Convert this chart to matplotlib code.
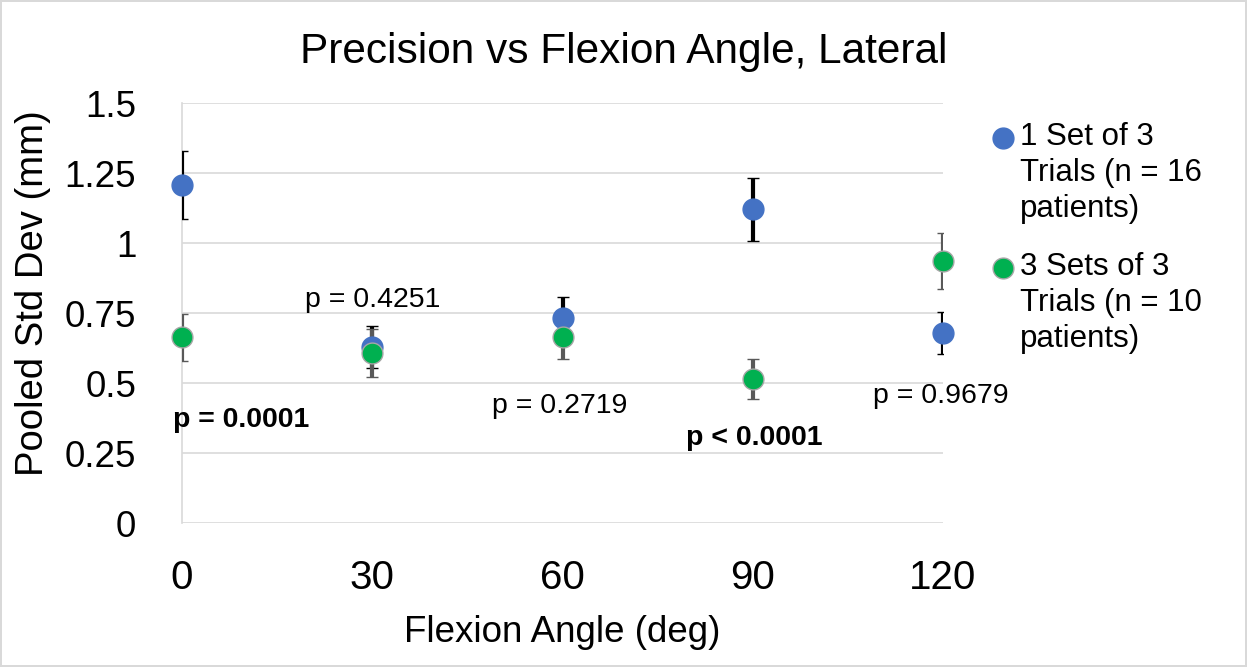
import matplotlib
matplotlib.use("Agg")
import matplotlib.pyplot as plt
from matplotlib.lines import Line2D

plt.rcParams['font.family'] = ['Liberation Sans', 'DejaVu Sans']

# Data
angles = [0, 30, 60, 90, 120]
one_set = [1.208, 0.631, 0.732, 1.121, 0.679]
one_set_err = [0.122, 0.075, 0.077, 0.112, 0.075]
three_sets = [0.664, 0.609, 0.666, 0.516, 0.937]
three_sets_err = [0.085, 0.086, 0.080, 0.072, 0.100]

labels = ["1 Set of 3\nTrials (n = 16\npatients)",
          "3 Sets of 3\nTrials (n = 10\npatients)"]

# p-value annotations
p_x = [30, 9.3, 59.5, 90.2, 119.7]
p_y = [0.7725, 0.344, 0.394, 0.280, 0.430]
p_text = ["p = 0.4251", "p = 0.0001", "p = 0.2719", "p < 0.0001", "p = 0.9679"]
p_bold = [False, True, False, True, False]

yticks = [0, 0.25, 0.5, 0.75, 1, 1.25, 1.5]
ytick_labels = ["0", "0.25", "0.5", "0.75", "1", "1.25", "1.5"]

blue = "#4472C4"
green = "#00B050"
W, H = 1247, 667

fig = plt.figure(figsize=(W / 100, H / 100), dpi=100)
fig.patch.set_edgecolor("#d9d9d9")
fig.patch.set_linewidth(1.5)
ax = fig.add_axes([182 / W, 1 - 523.3 / H, (943 - 182) / W, (523.3 - 103.3) / H])

series = [(one_set, one_set_err, blue, "black", blue),
          (three_sets, three_sets_err, green, "#595959", "#a6a6a6")]
for vals, errs, col, ecol, edge in series:
    line, caps, bars = ax.errorbar(angles, vals, yerr=errs, fmt="o", ms=15,
                                   mfc=col, mec=edge, mew=1.0,
                                   ecolor=ecol, elinewidth=3, capsize=4.5,
                                   capthick=3, zorder=3)
    line.set_clip_on(False)

ax.set_xlim(0, 120)
ax.set_ylim(0, 1.5)
ax.set_xticks(angles)
ax.set_yticks(yticks)
ax.set_yticklabels(ytick_labels, fontsize=26.5)
ax.tick_params(axis="y", length=0, pad=33)
ax.tick_params(axis="x", length=0, pad=26, labelsize=29)
ax.yaxis.grid(True, color="#d9d9d9", lw=1.2)
ax.set_axisbelow(True)
for s in ["top", "right", "bottom"]:
    ax.spines[s].set_visible(False)
ax.spines["left"].set_color("#d9d9d9")
ax.spines["left"].set_linewidth(1.2)

for x, y, t, b in zip(p_x, p_y, p_text, p_bold):
    ax.text(x, y, t, ha="center", va="baseline", fontsize=20.5,
            fontweight="bold" if b else "normal", clip_on=False)

fig.text(624 / W, 1 - 52 / H, "Precision vs Flexion Angle, Lateral", ha="center",
         va="center", fontsize=30.5)
fig.text(562 / W, 1 - 632 / H, "Flexion Angle (deg)", ha="center", va="center",
         fontsize=26.5)
fig.text(33 / W, 1 - 293 / H, "Pooled Std Dev (mm)", ha="center", va="center",
         rotation=90, fontsize=27.5)

# legend drawn by hand: marker next to the first line of each label
leg_colors = [(blue, blue), (green, "#a6a6a6")]
leg_y = [138, 268]
for lab, (fc, ec), y in zip(labels, leg_colors, leg_y):
    fig.add_artist(Line2D([1003 / W], [1 - y / H], ls="none", marker="o", ms=15,
                          mfc=fc, mec=ec, transform=fig.transFigure))
    fig.text(1020 / W, 1 - (y - 16) / H, lab, ha="left", va="top", fontsize=22.5,
             linespacing=1.26)

fig.savefig("out.png", dpi=100)
